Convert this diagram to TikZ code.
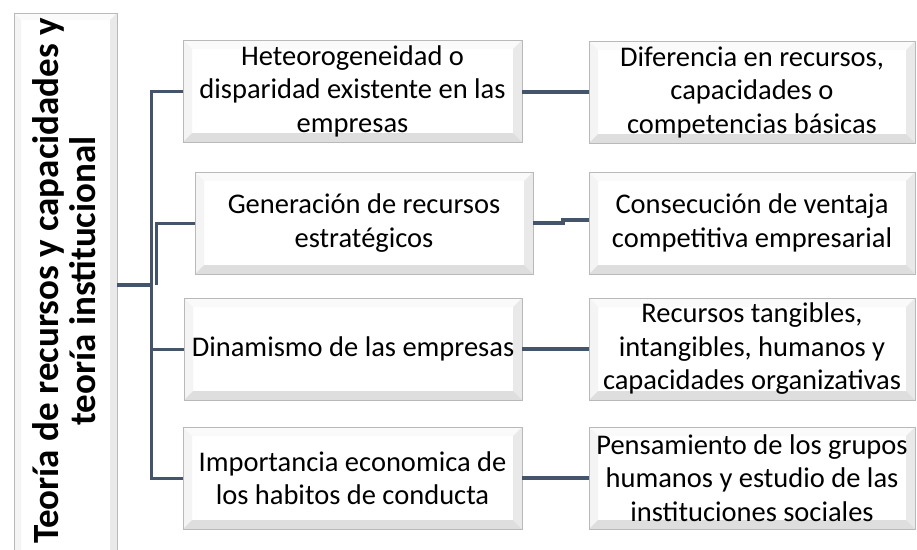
\documentclass[tikz,border=0pt]{standalone}
\usepackage{fontspec}
\setmainfont{Carlito}
\definecolor{conn}{HTML}{44546A}
\newcommand\bevelpic[1]{%
  \coordinate (bvnw) at (path picture bounding box.north west);
  \coordinate (bvne) at (path picture bounding box.north east);
  \coordinate (bvsw) at (path picture bounding box.south west);
  \coordinate (bvse) at (path picture bounding box.south east);
  \fill[gray!4] (bvnw) -- (bvne) -- ([xshift=-#1,yshift=-#1]bvne) -- ([xshift=#1,yshift=-#1]bvnw) -- cycle;
  \fill[gray!9] (bvnw) -- ([xshift=#1,yshift=-#1]bvnw) -- ([xshift=#1,yshift=#1]bvsw) -- (bvsw) -- cycle;
  \fill[gray!17] (bvne) -- ([xshift=-#1,yshift=-#1]bvne) -- ([xshift=-#1,yshift=#1]bvse) -- (bvse) -- cycle;
  \fill[gray!26] (bvsw) -- ([xshift=#1,yshift=#1]bvsw) -- ([xshift=-#1,yshift=#1]bvse) -- (bvse) -- cycle;
}
\tikzset{
  bevbox/.style={draw=gray!55, line width=1pt, fill=white, inner sep=0pt, outer sep=0pt,
    align=center, text=black, path picture={\bevelpic{#1}}},
  item/.style={bevbox=9pt, minimum width=339pt, minimum height=102pt,
    font=\fontsize{28.5}{33.5}\selectfont},
  res/.style={bevbox=9pt, minimum width=326pt, minimum height=102pt,
    font=\fontsize{28.5}{33.5}\selectfont},
  link/.style={draw=conn, line width=3pt},
  rlink/.style={draw=conn, line width=3.5pt},
}
\begin{document}
\begin{tikzpicture}[x=1pt,y=-1pt]
\useasboundingbox (0,0) rectangle (917,549);
\fill[white] (0,0) rectangle (917,549);
% left title box
\node[bevbox=7pt, minimum width=103pt, minimum height=546pt] (L) at (65.5,286) {};
\node[rotate=90, font=\bfseries\fontsize{37}{37.5}\selectfont, align=center, inner sep=0pt] (Lt) at (64,281)
  {Teoría de recursos y capacidades y\\teoría institucional};
% middle boxes
\node[item] (b1) at (352.5,91) {Heteorogeneidad o\\disparidad existente en las\\empresas};
\node[item, minimum width=338pt] (b2) at (364,223) {Generación de recursos\\estratégicos};
\node[item, minimum width=338pt] (b3) at (353,349) {Dinamismo de las empresas};
\node[item] (b4) at (352.5,478) {Importancia economica de\\los habitos de conducta};
% right boxes
\node[res] (r1) at (752,92) {Diferencia en recursos,\\capacidades o\\competencias básicas};
\node[res] (r2) at (752,223) {Consecución de ventaja\\competitiva empresarial};
\node[res] (r3) at (752,349) {Recursos tangibles,\\intangibles, humanos y\\capacidades organizativas};
\node[res] (r4) at (752,478) {Pensamiento de los grupos\\humanos y estudio de las\\instituciones sociales};
% connectors left
\coordinate (tx) at (151,285);
\coordinate (tx2) at (156,285);
\draw[link, line width=4pt] (L.east |- tx) -- (tx);
\draw[link] (b1.west) -| (tx |- b4.west) -- (b4.west);
\draw[link] (tx |- b3.west) -- (b3.west);
\draw[link] (b2.west) -| (tx2);
% connectors right
\draw[rlink] (b1.east |- r1.west) -- (r1.west);
\draw[rlink] (b2.east) -- ([xshift=30pt]b2.east) |- ([yshift=3pt]r2.west);
\draw[rlink] (b3.east) -- (r3.west);
\draw[rlink] (b4.east) -- (r4.west);
\end{tikzpicture}
\end{document}
